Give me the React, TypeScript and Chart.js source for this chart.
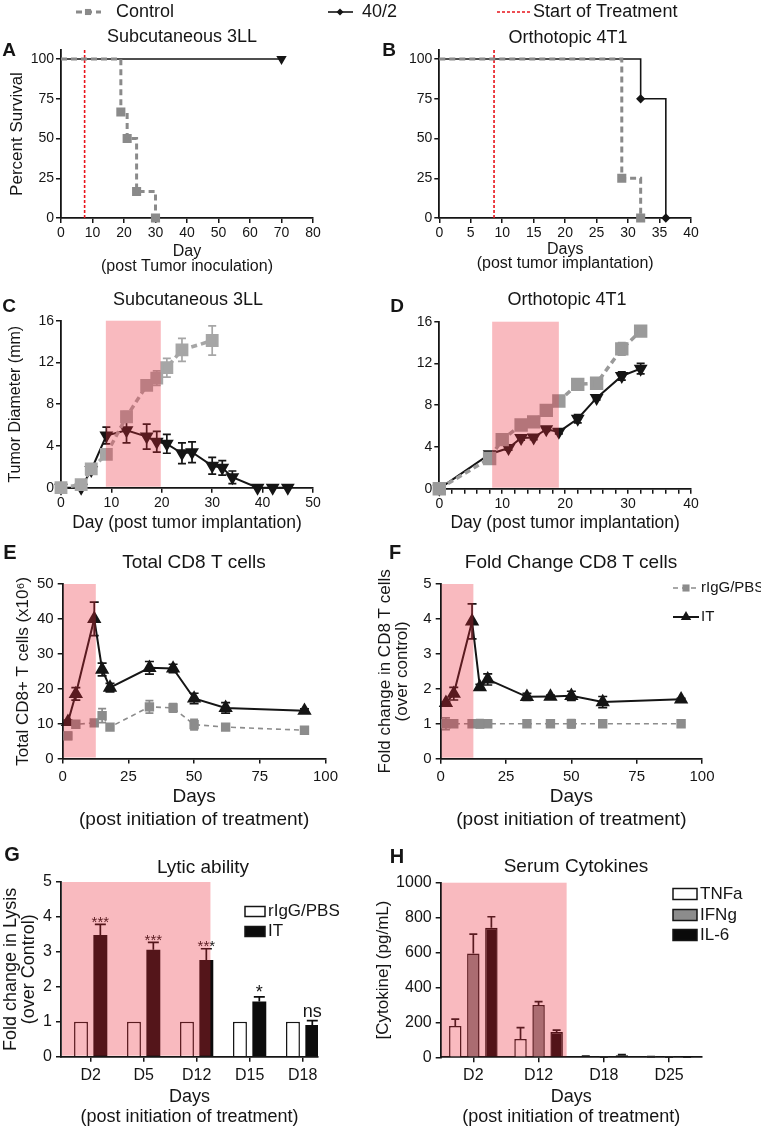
import React, { useEffect, useRef } from 'react';
import { Chart, registerables } from 'chart.js';

Chart.register(...registerables);

const FONT = "'Liberation Sans', Arial, Helvetica, sans-serif";
const INK = '#151515';
const SHADE = 'rgba(235, 40, 55, 0.32)';
const RED = '#e8141b';

// ---------------- data ----------------
// A: survival, subcutaneous 3LL
const aCtrlDays = [0, 19, 21, 24, 30];
const aCtrlSurv = [100, 66.7, 50, 16.7, 0];
const aTrtDays = [0, 70];
const aTrtSurv = [100, 100];
const aStartDay = 7.5;
// B: survival, orthotopic 4T1
const bCtrlDays = [0, 29, 32];
const bCtrlSurv = [100, 25, 0];
const bTrtDays = [0, 32, 36];
const bTrtSurv = [100, 75, 0];
const bStartDay = 8.7;
const survYMax = 105.7;
const survYTicks = [0, 25, 50, 75, 100];
// C: tumour diameter, subcutaneous 3LL
const cCtrlDays = [0, 4, 6, 9, 13, 17, 19, 21, 24, 30];
const cCtrlMean = [0, 0.3, 1.8, 3.2, 6.8, 9.8, 10.5, 11.5, 13.2, 14.1];
const cCtrlErr = [0, 0.1, 0.3, 0.4, 0.5, 0.3, 0.7, 0.9, 1.1, 1.4];
const cTrtDays = [0, 4, 6, 9, 13, 17, 19, 21, 24, 26, 30, 32, 34, 39, 42, 45];
const cTrtMean = [0, 0, 1.7, 5.0, 5.5, 4.9, 4.4, 4.2, 3.3, 3.4, 2.1, 1.9, 1.0, 0, 0, 0];
const cTrtErr = [0, 0, 0.4, 0.8, 1.2, 1.2, 1.0, 0.9, 1.0, 1.0, 0.8, 0.7, 0.6, 0, 0, 0];
const cShade: [number, number] = [8.9, 19.8];
// D: tumour diameter, orthotopic 4T1
const dCtrlDays = [0, 8, 10, 13, 15, 17, 19, 22, 25, 29, 32];
const dCtrlMean = [0, 2.9, 4.7, 6.1, 6.4, 7.5, 8.4, 10.0, 10.1, 13.4, 15.1];
const dCtrlErr = [0, 0.2, 0.3, 0.3, 0.4, 0.4, 0.3, 0.4, 0.3, 0.6, 0.3];
const dTrtDays = [0, 8, 11, 13, 15, 17, 19, 22, 25, 29, 32];
const dTrtMean = [0, 3.3, 3.9, 4.85, 4.9, 5.7, 5.45, 6.7, 8.7, 10.8, 11.5];
const dTrtErr = [0, 0.2, 0.2, 0.2, 0.2, 0.2, 0.2, 0.4, 0.2, 0.4, 0.5];
const dShade: [number, number] = [8.4, 19.0];
// E: total CD8 T cells
const eDays = [2, 5, 12, 15, 18, 33, 42, 50, 62, 92];
const eCtrlMean = [6.5, 9.8, 10.2, 12.3, 9.0, 14.8, 14.5, 9.7, 9.0, 8.1];
const eCtrlErr = [1.0, 0.5, 0.5, 2.0, 0.5, 1.8, 1.2, 1.5, 0.5, 0.5];
const eTrtMean = [10.5, 18.5, 40, 25.5, 20.3, 26, 25.8, 17.2, 14.5, 13.7];
const eTrtErr = [0.5, 1.8, 4.8, 1.8, 1.2, 1.8, 1.2, 1.5, 1.5, 0.5];
const eShade: [number, number] = [0, 12.6];
// F: fold change CD8 T cells
const fCtrlMean = [1, 1, 1, 1, 1, 1, 1, 1, 1, 1];
const fCtrlErr = [0.17, 0.05, 0.03, 0.12, 0.05, 0.1, 0.03, 0.12, 0.08, 0.03];
const fTrtMean = [1.6, 1.86, 3.93, 2.05, 2.27, 1.77, 1.78, 1.8, 1.62, 1.7];
const fTrtErr = [0.03, 0.18, 0.5, 0.08, 0.16, 0.1, 0.04, 0.13, 0.16, 0.03];
const fShade: [number, number] = [0, 12.5];
// G: lytic ability
const gLabels = ['D2', 'D5', 'D12', 'D15', 'D18'];
const gCtrl = [1, 1, 1, 1, 1];
const gIT = [3.48, 3.06, 2.77, 1.58, 0.91];
const gITErr = [0.31, 0.21, 0.32, 0.13, 0.12];
const gSig = ['***', '***', '***', '*', 'ns'];
const gShadeEnd = 2.26;
// H: serum cytokines
const hLabels = ['D2', 'D12', 'D18', 'D25'];
const hTNF = [179, 105, 5, 3];
const hTNFErr = [40, 65, 2, 1];
const hIFN = [595, 300, 2, 2];
const hIFNErr = [111, 19, 1, 1];
const hIL6 = [742, 145, 12, 1];
const hIL6Err = [63, 11, 3, 1];
const hShadeEnd = 1.43;

// ---------------- helpers ----------------
type Rect = { x: number; y: number; w: number; h: number };
type Plot = { l: number; t: number; r: number; b: number };
type Txt = { text: string; x: number; y: number; size: number; bold?: boolean };
type Leg = {
  ds: number; y: number; tx: number; size: number;
  x1?: number; x2?: number; mx?: number; mStyle?: string; mr?: number;
  box?: [number, number, number, number];
};

const pts = (xs: number[], ys: number[]) => xs.map((x, i) => ({ x, y: ys[i] }));

function marker(ctx: CanvasRenderingContext2D, style: string, x: number, y: number, r: number, color: string, rot = 0) {
  ctx.save();
  ctx.fillStyle = color;
  ctx.setLineDash([]);
  ctx.beginPath();
  if (style === 'rect') {
    const s = r * Math.SQRT1_2;
    ctx.rect(x - s, y - s, 2 * s, 2 * s);
  } else if (style === 'rectRot') {
    ctx.moveTo(x, y - r); ctx.lineTo(x + r, y); ctx.lineTo(x, y + r); ctx.lineTo(x - r, y); ctx.closePath();
  } else {
    let a = (rot * Math.PI) / 180;
    for (let k = 0; k < 3; k++) {
      const px = x + Math.sin(a) * r, py = y - Math.cos(a) * r;
      if (k === 0) ctx.moveTo(px, py); else ctx.lineTo(px, py);
      a += (2 * Math.PI) / 3;
    }
    ctx.closePath();
  }
  ctx.fill();
  ctx.restore();
}

function drawErrors(chart: any) {
  const ctx: CanvasRenderingContext2D = chart.ctx;
  const ys = chart.scales.y;
  chart.data.datasets.forEach((ds: any, di: number) => {
    if (!ds.err) return;
    const meta = chart.getDatasetMeta(di);
    ctx.save();
    ctx.strokeStyle = ds.errColor || ds.borderColor;
    ctx.lineWidth = ds.errWidth || 1.7;
    ctx.setLineDash([]);
    meta.data.forEach((el: any, i: number) => {
      const e = ds.err[i];
      if (!e) return;
      const raw = ds.data[i];
      const v = typeof raw === 'number' ? raw : raw.y;
      const px = el.x;
      const top = ys.getPixelForValue(v + e);
      const bot = ds.errUpOnly ? ys.getPixelForValue(v) : ys.getPixelForValue(v - e);
      const cw = (ds.capW || 8) / 2;
      ctx.beginPath();
      ctx.moveTo(px, bot); ctx.lineTo(px, top);
      ctx.moveTo(px - cw, top); ctx.lineTo(px + cw, top);
      if (!ds.errUpOnly) { ctx.moveTo(px - cw, bot); ctx.lineTo(px + cw, bot); }
      ctx.stroke();
    });
    ctx.restore();
  });
}

function panelPlugin(rect: Rect, extra: { texts?: Txt[]; shade?: [number, number]; legend?: Leg[]; pre?: (c: any) => void }) {
  return {
    id: 'panel',
    beforeDatasetsDraw(chart: any) { drawErrors(chart); },
    afterDatasetsDraw(chart: any) {
      if (extra.pre) extra.pre(chart);
      if (extra.shade) {
        const { ctx, chartArea: a } = chart;
        const xs = chart.scales.x;
        const x1 = Math.max(a.left + 1, xs.getPixelForValue(extra.shade[0]));
        const x2 = xs.getPixelForValue(extra.shade[1]);
        ctx.save();
        ctx.fillStyle = SHADE;
        ctx.fillRect(x1, a.top, x2 - x1, a.bottom - a.top - 1);
        ctx.restore();
      }
    },
    afterDraw(chart: any) {
      const ctx: CanvasRenderingContext2D = chart.ctx;
      ctx.save();
      ctx.textBaseline = 'middle';
      for (const t of extra.texts || []) {
        ctx.font = `${t.bold ? 'bold ' : ''}${t.size}px ${FONT}`;
        ctx.fillStyle = INK;
        ctx.textAlign = 'center';
        ctx.fillText(t.text, t.x - rect.x, t.y - rect.y);
      }
      for (const l of extra.legend || []) {
        const ds = chart.data.datasets[l.ds];
        const y = l.y - rect.y;
        if (l.box) {
          ctx.save();
          ctx.fillStyle = ds.backgroundColor;
          ctx.strokeStyle = INK;
          ctx.lineWidth = 1.5;
          ctx.fillRect(l.box[0] - rect.x, l.box[1] - rect.y, l.box[2], l.box[3]);
          ctx.strokeRect(l.box[0] - rect.x, l.box[1] - rect.y, l.box[2], l.box[3]);
          ctx.restore();
        } else {
          ctx.save();
          ctx.strokeStyle = ds.borderColor;
          ctx.lineWidth = ds.borderWidth;
          ctx.setLineDash(ds.borderDash || []);
          ctx.beginPath();
          ctx.moveTo((l.x1 as number) - rect.x, y);
          ctx.lineTo((l.x2 as number) - rect.x, y);
          ctx.stroke();
          ctx.restore();
          if (l.mStyle) marker(ctx, l.mStyle, (l.mx as number) - rect.x, y, l.mr || 4, ds.borderColor);
        }
        ctx.font = `${l.size}px ${FONT}`;
        ctx.fillStyle = INK;
        ctx.textAlign = 'left';
        ctx.fillText(ds.label, l.tx - rect.x, y);
      }
      ctx.restore();
    },
  };
}

type AxisCfg = {
  xType?: string; xMin?: number; xMax?: number; xStep?: number; xTicks?: number[]; xCb?: (v: any) => any; xOffset?: boolean;
  yMin: number; yMax: number; yStep?: number; yTicks?: number[];
  tick: number; tickPad: number;
  xTitle: string | string[]; xTitleSize: number; xTitleLH: number; xTitleY: number;
  yTitle?: string | string[]; yTitleSize?: number; yTitleLH?: number; yTitleX?: number;
};

function mkScales(rect: Rect, plot: Plot, c: AxisCfg) {
  const xLines = Array.isArray(c.xTitle) ? c.xTitle.length : 1;
  const xPb = rect.y + rect.h - c.xTitleY - c.xTitleLH / 2 - c.xTitleLH * (xLines - 1);
  const yPt = c.yTitle ? (c.yTitleX as number) - rect.x - (c.yTitleLH as number) / 2 : 0;
  const grid = { display: true, drawOnChartArea: false, color: INK, lineWidth: 1.5, tickLength: 5, offset: false };
  const border = { display: true, color: INK, width: 1.8 };
  const x: any = {
    type: c.xType || 'linear',
    offset: c.xOffset ?? false,
    grid, border,
    ticks: { color: INK, font: { family: FONT, size: c.tick }, padding: c.tickPad, maxRotation: 0, autoSkip: false, stepSize: c.xStep, callback: c.xCb },
    afterFit: (s: any) => { s.height = rect.y + rect.h - plot.b; },
    title: { display: true, text: c.xTitle, color: INK, font: { family: FONT, size: c.xTitleSize, lineHeight: c.xTitleLH + 'px' }, padding: { top: 0, bottom: xPb } },
  };
  if (c.xMin !== undefined) x.min = c.xMin;
  if (c.xMax !== undefined) x.max = c.xMax;
  if (!c.xCb) delete x.ticks.callback;
  if (c.xTicks) x.afterBuildTicks = (s: any) => { s.ticks = (c.xTicks as number[]).map((v) => ({ value: v })); };
  const y: any = {
    type: 'linear', min: c.yMin, max: c.yMax,
    grid, border,
    ticks: { color: INK, font: { family: FONT, size: c.tick }, padding: c.tickPad, autoSkip: false, stepSize: c.yStep, callback: (v: any) => String(v) },
    afterFit: (s: any) => { s.width = plot.l - rect.x; },
    title: c.yTitle
      ? { display: true, text: c.yTitle, color: INK, font: { family: FONT, size: c.yTitleSize, lineHeight: c.yTitleLH + 'px' }, padding: { top: yPt, bottom: 0 } }
      : { display: false },
  };
  if (c.yTicks) y.afterBuildTicks = (s: any) => { s.ticks = (c.yTicks as number[]).map((v) => ({ value: v })); };
  return { x, y };
}

function baseOptions(rect: Rect, plot: Plot, scales: any) {
  return {
    responsive: false,
    animation: false,
    devicePixelRatio: 1,
    layout: { padding: { left: 0, top: plot.t - rect.y, right: rect.x + rect.w - plot.r, bottom: 0 } },
    plugins: { legend: { display: false }, tooltip: { enabled: false }, title: { display: false } },
    elements: { line: { tension: 0 }, point: { borderWidth: 0 } },
    scales,
  };
}

// ---------------- panels ----------------
const rectA: Rect = { x: 0, y: 0, w: 761, h: 280 };
const plotA: Plot = { l: 61, t: 50, r: 313, b: 218 };
const rectB: Rect = { x: 370, y: 0, w: 391, h: 280 };
const plotB: Plot = { l: 439.3, t: 50, r: 691, b: 218 };
const rectC: Rect = { x: 0, y: 280, w: 380, h: 255 };
const plotC: Plot = { l: 61, t: 320.7, r: 313, b: 487.7 };
const rectD: Rect = { x: 370, y: 280, w: 391, h: 255 };
const plotD: Plot = { l: 439.3, t: 321.7, r: 691, b: 488.7 };
const rectE: Rect = { x: 0, y: 535, w: 380, h: 300 };
const plotE: Plot = { l: 62.7, t: 584, r: 325.5, b: 758.5 };
const rectF: Rect = { x: 370, y: 535, w: 391, h: 300 };
const plotF: Plot = { l: 440.7, t: 584, r: 702, b: 758.7 };
const rectG: Rect = { x: 0, y: 835, w: 380, h: 292 };
const plotG: Plot = { l: 61, t: 882, r: 318, b: 1056.7 };
const rectH: Rect = { x: 370, y: 835, w: 391, h: 292 };
const plotH: Plot = { l: 440.7, t: 882.7, r: 701.7, b: 1057.3 };

function survDatasets(cd: number[], cs: number[], td: number[], ts: number[], start: number, trtStyle: string, trtRot: number, trtR: number) {
  return [
    {
      label: 'Control', data: pts(cd, cs), stepped: 'before', borderColor: '#8a8a8a', backgroundColor: '#8a8a8a',
      borderWidth: 3, borderDash: [6, 4], pointStyle: 'rect', pointRadius: cd.map((_, i) => (i === 0 ? 0 : 4.3)),
      pointBackgroundColor: '#8a8a8a', clip: false,
    },
    {
      label: '40/2', data: pts(td, ts), stepped: 'before', borderColor: INK, backgroundColor: INK, borderWidth: 1.6,
      pointStyle: trtStyle, pointRotation: trtRot, pointRadius: td.map((_, i) => (i === 0 ? 0 : trtR)), pointBackgroundColor: INK, clip: false,
    },
    {
      label: 'Start of Treatment', data: [{ x: start, y: 0 }, { x: start, y: survYMax }], borderColor: RED, backgroundColor: RED,
      borderWidth: 1.6, borderDash: [3, 2], pointRadius: 0, clip: false,
    },
  ];
}

function buildA() {
  const scales = mkScales(rectA, plotA, {
    xMin: 0, xMax: 80, xStep: 10, yMin: 0, yMax: survYMax, yTicks: survYTicks, tick: 14, tickPad: 2,
    xTitle: ['Day', '(post Tumor inoculation)'], xTitleSize: 16, xTitleLH: 15, xTitleY: 251.7,
    yTitle: 'Percent Survival', yTitleSize: 17, yTitleLH: 20, yTitleX: 17,
  });
  return {
    type: 'line',
    data: { datasets: survDatasets(aCtrlDays, aCtrlSurv, aTrtDays, aTrtSurv, aStartDay, 'triangle', 180, 4.4) },
    options: baseOptions(rectA, plotA, scales),
    plugins: [panelPlugin(rectA, {
      texts: [{ text: 'Subcutaneous 3LL', x: 182, y: 37, size: 18 }, { text: 'A', x: 9, y: 51, size: 19, bold: true }],
      legend: [
        { ds: 0, x1: 76, x2: 101, mx: 88, mStyle: 'rect', mr: 4.3, y: 12, tx: 116, size: 18 },
        { ds: 1, x1: 328, x2: 353, mx: 340, mStyle: 'rectRot', mr: 3.5, y: 12, tx: 362, size: 18 },
        { ds: 2, x1: 497, x2: 532, y: 12, tx: 533, size: 18 },
      ],
    })],
  };
}

function buildB() {
  const scales = mkScales(rectB, plotB, {
    xMin: 0, xMax: 40, xStep: 5, yMin: 0, yMax: survYMax, yTicks: survYTicks, tick: 14, tickPad: 2,
    xTitle: ['Days', '(post tumor implantation)'], xTitleSize: 16, xTitleLH: 14, xTitleY: 250,
  });
  return {
    type: 'line',
    data: { datasets: survDatasets(bCtrlDays, bCtrlSurv, bTrtDays, bTrtSurv, bStartDay, 'rectRot', 0, 3.5) },
    options: baseOptions(rectB, plotB, scales),
    plugins: [panelPlugin(rectB, {
      texts: [{ text: 'Orthotopic 4T1', x: 568, y: 38, size: 18 }, { text: 'B', x: 389, y: 51, size: 19, bold: true }],
    })],
  };
}

function tumorDatasets(cd: number[], cm: number[], ce: number[], td: number[], tm: number[], te: number[], gray: string, sqR: number) {
  return [
    {
      label: 'Control', data: pts(cd, cm), err: ce, errColor: gray, capW: 8, borderColor: gray, backgroundColor: gray,
      borderWidth: 3.5, borderDash: [6, 4], pointStyle: 'rect', pointRadius: sqR, pointBackgroundColor: gray, clip: false,
    },
    {
      label: '40/2', data: pts(td, tm), err: te, capW: 8, borderColor: INK, backgroundColor: INK, borderWidth: 2,
      pointStyle: 'triangle', pointRotation: 180, pointRadius: 6, pointBackgroundColor: INK, clip: false,
    },
  ];
}

function buildC() {
  const scales = mkScales(rectC, plotC, {
    xMin: 0, xMax: 50, xStep: 10, yMin: 0, yMax: 16, yStep: 4, tick: 14, tickPad: 2,
    xTitle: 'Day (post tumor implantation)', xTitleSize: 17.5, xTitleLH: 21, xTitleY: 523,
    yTitle: 'Tumor Diameter (mm)', yTitleSize: 16, yTitleLH: 19, yTitleX: 16,
  });
  return {
    type: 'line',
    data: { datasets: tumorDatasets(cCtrlDays, cCtrlMean, cCtrlErr, cTrtDays, cTrtMean, cTrtErr, '#a6a6a6', 6.6) },
    options: baseOptions(rectC, plotC, scales),
    plugins: [panelPlugin(rectC, {
      shade: cShade,
      texts: [{ text: 'Subcutaneous 3LL', x: 188, y: 300, size: 18 }, { text: 'C', x: 9, y: 307, size: 19, bold: true }],
    })],
  };
}

function buildD() {
  const scales = mkScales(rectD, plotD, {
    xMin: 0, xMax: 40, xStep: 2, xCb: (v: any) => (v % 10 === 0 ? String(v) : ''), yMin: 0, yMax: 16, yStep: 4, tick: 14, tickPad: 2,
    xTitle: 'Day (post tumor implantation)', xTitleSize: 17.5, xTitleLH: 21, xTitleY: 523,
  });
  return {
    type: 'line',
    data: { datasets: tumorDatasets(dCtrlDays, dCtrlMean, dCtrlErr, dTrtDays, dTrtMean, dTrtErr, '#9a9a9a', 7) },
    options: baseOptions(rectD, plotD, scales),
    plugins: [panelPlugin(rectD, {
      shade: dShade,
      texts: [{ text: 'Orthotopic 4T1', x: 567, y: 300, size: 18 }, { text: 'D', x: 397, y: 307, size: 19, bold: true }],
    })],
  };
}

function cd8Datasets(cm: number[], ce: number[], tm: number[], te: number[]) {
  return [
    {
      label: 'rIgG/PBS', data: pts(eDays, cm), err: ce, capW: 8, borderColor: '#8c8c8c', backgroundColor: '#8c8c8c',
      borderWidth: 1.6, borderDash: [5, 4], pointStyle: 'rect', pointRadius: 5.5, pointBackgroundColor: '#8c8c8c', clip: false,
    },
    {
      label: 'IT', data: pts(eDays, tm), err: te, capW: 9, borderColor: INK, backgroundColor: INK, borderWidth: 2,
      pointStyle: 'triangle', pointRadius: 6.3, pointBackgroundColor: INK, clip: false,
    },
  ];
}

function buildE() {
  const scales = mkScales(rectE, plotE, {
    xMin: 0, xMax: 100, xStep: 25, yMin: 0, yMax: 50, yStep: 10, tick: 15, tickPad: 4,
    xTitle: ['Days', '(post initiation of treatment)'], xTitleSize: 19, xTitleLH: 23, xTitleY: 796.7,
    yTitle: 'Total CD8+ T cells (x10\u2076)', yTitleSize: 17, yTitleLH: 20, yTitleX: 23,
  });
  return {
    type: 'line',
    data: { datasets: cd8Datasets(eCtrlMean, eCtrlErr, eTrtMean, eTrtErr) },
    options: baseOptions(rectE, plotE, scales),
    plugins: [panelPlugin(rectE, {
      shade: eShade,
      texts: [{ text: 'Total CD8 T cells', x: 194, y: 563, size: 19 }, { text: 'E', x: 10, y: 553, size: 20, bold: true }],
    })],
  };
}

function buildF() {
  const scales = mkScales(rectF, plotF, {
    xMin: 0, xMax: 100, xStep: 25, yMin: 0, yMax: 5, yStep: 1, tick: 15, tickPad: 4,
    xTitle: ['Days', '(post initiation of treatment)'], xTitleSize: 19, xTitleLH: 23, xTitleY: 796.7,
    yTitle: ['Fold change in CD8 T cells', '(over control)'], yTitleSize: 17, yTitleLH: 17, yTitleX: 385,
  });
  return {
    type: 'line',
    data: { datasets: cd8Datasets(fCtrlMean, fCtrlErr, fTrtMean, fTrtErr) },
    options: baseOptions(rectF, plotF, scales),
    plugins: [panelPlugin(rectF, {
      shade: fShade,
      texts: [{ text: 'Fold Change CD8 T cells', x: 571, y: 563, size: 19 }, { text: 'F', x: 395, y: 553, size: 20, bold: true }],
      legend: [
        { ds: 0, x1: 673, x2: 699, mx: 686, mStyle: 'rect', mr: 5, y: 588, tx: 701, size: 15 },
        { ds: 1, x1: 673, x2: 699, mx: 686, mStyle: 'triangle', mr: 6, y: 617, tx: 701, size: 15 },
      ],
    })],
  };
}

function buildG() {
  const scales = mkScales(rectG, plotG, {
    xMin: -0.56, xMax: 4.29, xTicks: gLabels.map((_, i) => i), xCb: (v: any) => gLabels[v] ?? '',
    yMin: 0, yMax: 5, yStep: 1, tick: 16, tickPad: 4,
    xTitle: ['Days', '(post initiation of treatment)'], xTitleSize: 18, xTitleLH: 20, xTitleY: 1096.7,
    yTitle: ['Fold change in Lysis', '(over Control)'], yTitleSize: 18, yTitleLH: 18, yTitleX: 11,
  });
  return {
    type: 'bar',
    data: {
      datasets: [
        { label: 'rIgG/PBS', data: gLabels.map((_, i) => ({ x: i, y: gCtrl[i] })), backgroundColor: '#ffffff', borderColor: INK, borderWidth: 1.5 },
        { label: 'IT', data: gLabels.map((_, i) => ({ x: i, y: gIT[i] })), backgroundColor: '#0c0c0c', borderColor: '#0c0c0c', borderWidth: 0, err: gITErr, errUpOnly: true, capW: 11 },
      ],
    },
    options: { ...baseOptions(rectG, plotG, scales), datasets: { bar: { categoryPercentage: 0.73, barPercentage: 0.72 } } },
    plugins: [panelPlugin(rectG, {
      shade: [-1, gShadeEnd],
      texts: [{ text: 'Lytic ability', x: 203, y: 868, size: 19 }, { text: 'G', x: 12, y: 855, size: 20, bold: true }],
      legend: [
        { ds: 0, box: [245, 906.5, 20, 10], y: 911.7, tx: 268, size: 17 },
        { ds: 1, box: [245, 926.5, 20, 10], y: 931.7, tx: 268, size: 17 },
      ],
      pre: (chart: any) => {
        const ctx: CanvasRenderingContext2D = chart.ctx;
        const meta = chart.getDatasetMeta(1);
        const ys = chart.scales.y;
        ctx.save();
        ctx.fillStyle = INK;
        ctx.textAlign = 'center';
        ctx.textBaseline = 'alphabetic';
        gSig.forEach((s, i) => {
          const el = meta.data[i];
          const cap = ys.getPixelForValue(gIT[i] + gITErr[i]);
          const size = s === '***' ? 15 : 18;
          const dy = s === '***' ? 2.5 : s === '*' ? 1 : -4;
          ctx.font = `${size}px ${FONT}`;
          ctx.fillText(s, el.x, cap + dy);
        });
        ctx.restore();
      },
    })],
  };
}

function buildH() {
  const scales = mkScales(rectH, plotH, {
    xType: 'category', xOffset: true,
    yMin: 0, yMax: 1000, yStep: 200, tick: 16, tickPad: 4,
    xTitle: ['Days', '(post initiation of treatment)'], xTitleSize: 18, xTitleLH: 20, xTitleY: 1096.7,
    yTitle: '[Cytokine] (pg/mL)', yTitleSize: 17, yTitleLH: 20, yTitleX: 383,
  });
  return {
    type: 'bar',
    data: {
      labels: hLabels,
      datasets: [
        { label: 'TNFa', data: hTNF, err: hTNFErr, errUpOnly: true, capW: 8, errColor: INK, backgroundColor: '#ffffff', borderColor: INK, borderWidth: 1.5 },
        { label: 'IFNg', data: hIFN, err: hIFNErr, errUpOnly: true, capW: 8, errColor: INK, backgroundColor: '#8c8c8c', borderColor: INK, borderWidth: 1.5 },
        { label: 'IL-6', data: hIL6, err: hIL6Err, errUpOnly: true, capW: 8, errColor: INK, backgroundColor: '#0a0a0a', borderColor: '#0a0a0a', borderWidth: 1.5 },
      ],
    },
    options: { ...baseOptions(rectH, plotH, scales), datasets: { bar: { categoryPercentage: 0.83, barPercentage: 0.69 } } },
    plugins: [panelPlugin(rectH, {
      shade: [-1, hShadeEnd],
      texts: [{ text: 'Serum Cytokines', x: 576, y: 867, size: 19 }, { text: 'H', x: 397, y: 857, size: 20, bold: true }],
      legend: [
        { ds: 0, box: [673, 888.5, 24, 11], y: 894, tx: 700, size: 17 },
        { ds: 1, box: [673, 909.5, 24, 11], y: 915, tx: 700, size: 17 },
        { ds: 2, box: [673, 929.5, 24, 11], y: 935, tx: 700, size: 17 },
      ],
    })],
  };
}

function ChartCanvas({ rect, build }: { rect: Rect; build: () => any }) {
  const ref = useRef<HTMLCanvasElement>(null);
  useEffect(() => {
    const chart = new Chart(ref.current as HTMLCanvasElement, build());
    return () => chart.destroy();
  }, []);
  return (
    <canvas
      ref={ref}
      width={rect.w}
      height={rect.h}
      style={{ position: 'absolute', left: rect.x, top: rect.y, width: rect.w, height: rect.h }}
    />
  );
}

export default function App() {
  return (
    <div style={{ position: 'absolute', left: 0, top: 0, width: 761, height: 1127, background: '#ffffff', overflow: 'hidden' }}>
      <ChartCanvas rect={rectA} build={buildA} />
      <ChartCanvas rect={rectB} build={buildB} />
      <ChartCanvas rect={rectC} build={buildC} />
      <ChartCanvas rect={rectD} build={buildD} />
      <ChartCanvas rect={rectE} build={buildE} />
      <ChartCanvas rect={rectF} build={buildF} />
      <ChartCanvas rect={rectG} build={buildG} />
      <ChartCanvas rect={rectH} build={buildH} />
    </div>
  );
}
